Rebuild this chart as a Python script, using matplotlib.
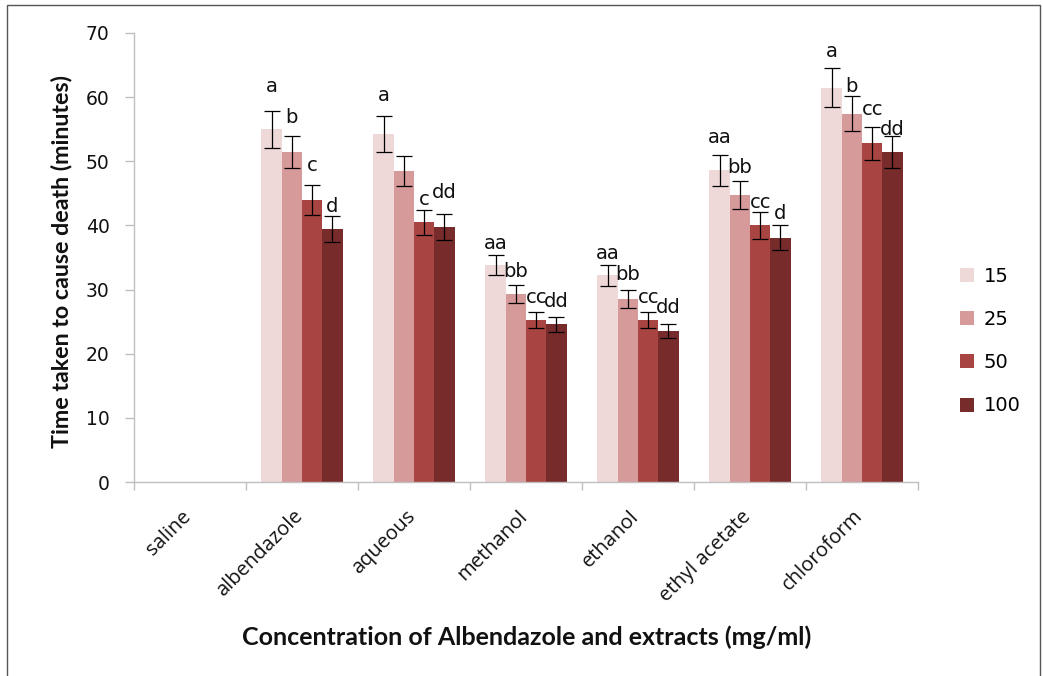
import matplotlib
matplotlib.use("Agg")
import matplotlib.pyplot as plt
import numpy as np
from matplotlib.patches import Rectangle

categories = ["saline", "albendazole", "aqueous", "methanol", "ethanol", "ethyl acetate", "chloroform"]
series_names = ["15", "25", "50", "100"]
colors = ["#efd8d8", "#d59a99", "#a84543", "#772b2b"]

v15 = [0, 55.0, 54.3, 33.8, 32.2, 48.6, 61.5]
v25 = [0, 51.4, 48.5, 29.3, 28.5, 44.7, 57.4]
v50 = [0, 44.0, 40.5, 25.3, 25.3, 40.0, 52.8]
v100 = [0, 39.4, 39.8, 24.6, 23.6, 38.1, 51.4]

e15 = [0, 2.9, 2.8, 1.6, 1.65, 2.4, 3.0]
e25 = [0, 2.5, 2.4, 1.45, 1.4, 2.2, 2.75]
e50 = [0, 2.3, 1.95, 1.25, 1.25, 2.05, 2.55]
e100 = [0, 2.0, 2.05, 1.2, 1.1, 1.95, 2.5]

# significance letters per series (per category) and their vertical centres
l15 = ["", "a", "a", "aa", "aa", "aa", "a"]
l25 = ["", "b", "", "bb", "bb", "bb", "b"]
l50 = ["", "c", "c", "cc", "cc", "cc", "cc"]
l100 = ["", "d", "dd", "dd", "dd", "d", "dd"]
y15 = [0, 61.7, 60.3, 37.2, 35.7, 53.7, 67.1]
y25 = [0, 56.9, 0, 32.8, 32.3, 49.1, 61.6]
y50 = [0, 49.4, 44.0, 28.7, 28.7, 43.5, 58.0]
y100 = [0, 42.9, 45.1, 28.2, 27.2, 41.9, 55.0]

values = [v15, v25, v50, v100]
errors = [e15, e25, e50, e100]
letters = [l15, l25, l50, l100]
letter_y = [y15, y25, y50, y100]

W, H = 1043, 676
fig = plt.figure(figsize=(W / 100, H / 100), dpi=100)
fig.patch.set_facecolor("white")
# outer frame
fig.add_artist(Rectangle((7 / W, -0.01), (1040 - 7) / W, (H - 5) / H + 0.01,
                         transform=fig.transFigure, fill=False,
                         edgecolor="#555555", linewidth=1.0))

ax = fig.add_axes([134 / W, (H - 482) / H, 784 / W, 449 / H])

n = len(categories)
x = np.arange(n)
bw = 0.181
offsets = (np.arange(4) - 1.5) * bw

for i in range(4):
    ax.bar(x + offsets[i], values[i], width=bw, color=colors[i],
           label=series_names[i], zorder=2)
    for j in range(n):
        if values[i][j] > 0:
            ax.errorbar(x[j] + offsets[i], values[i][j], yerr=errors[i][j],
                        fmt="none", ecolor="black", elinewidth=0.9,
                        capsize=6, capthick=0.9, zorder=3)
        if letters[i][j]:
            ax.text(x[j] + offsets[i], letter_y[i][j], letters[i][j],
                    ha="center", va="center", fontsize=14,
                    family="DejaVu Sans", color="#111111", zorder=4)

ax.set_xlim(-0.5, n - 0.5)
ax.set_ylim(0, 70)
ax.set_yticks(np.arange(0, 71, 10))
ax.tick_params(axis="y", labelsize=13.5, length=6.5, color="#bfbfbf", width=1,
               pad=11, labelcolor="#111111")
for lab in ax.get_yticklabels():
    lab.set_family("DejaVu Sans")

ax.set_xticks(np.arange(n + 1) - 0.5, minor=False)
ax.set_xticklabels([])
ax.tick_params(axis="x", length=6, color="#bfbfbf", width=1)
for j, c in enumerate(categories):
    ax.text(x[j] - 0.08, -3.8, c, rotation=45, rotation_mode="anchor",
            ha="right", va="top", fontsize=14.5, family="Open Sans",
            color="#111111")

for s in ["top", "right"]:
    ax.spines[s].set_visible(False)
for s in ["left", "bottom"]:
    ax.spines[s].set_color("#bfbfbf")
    ax.spines[s].set_linewidth(1)

yl = fig.text(62 / W, 1 - 262 / H, "Time taken to cause death (minutes)", rotation=90,
              ha="center", va="center", fontsize=16, fontweight="bold",
              family="Lato", color="#111111")
xl = fig.text(527 / W, 1 - 637 / H, "Concentration of Albendazole and extracts (mg/ml)",
              ha="center", va="center", fontsize=16, fontweight="bold",
              family="Lato", color="#111111")

# fit axis-title sizes to the reference extents
r = fig.canvas.get_renderer()
bb = xl.get_window_extent(r)
xl.set_fontsize(16 * 570 / bb.width)
bb = yl.get_window_extent(r)
yl.set_fontsize(16 * 375 / bb.height)

handles, labels_ = ax.get_legend_handles_labels()
leg = fig.legend(handles, labels_, loc="center left",
                 bbox_to_anchor=(942 / W, 1 - 341 / H), frameon=False,
                 prop={"family": "DejaVu Sans", "size": 14},
                 handlelength=0.75, handleheight=0.75, handletextpad=0.5,
                 labelspacing=1.25)

fig.savefig("out.png", dpi=100, facecolor="white")
